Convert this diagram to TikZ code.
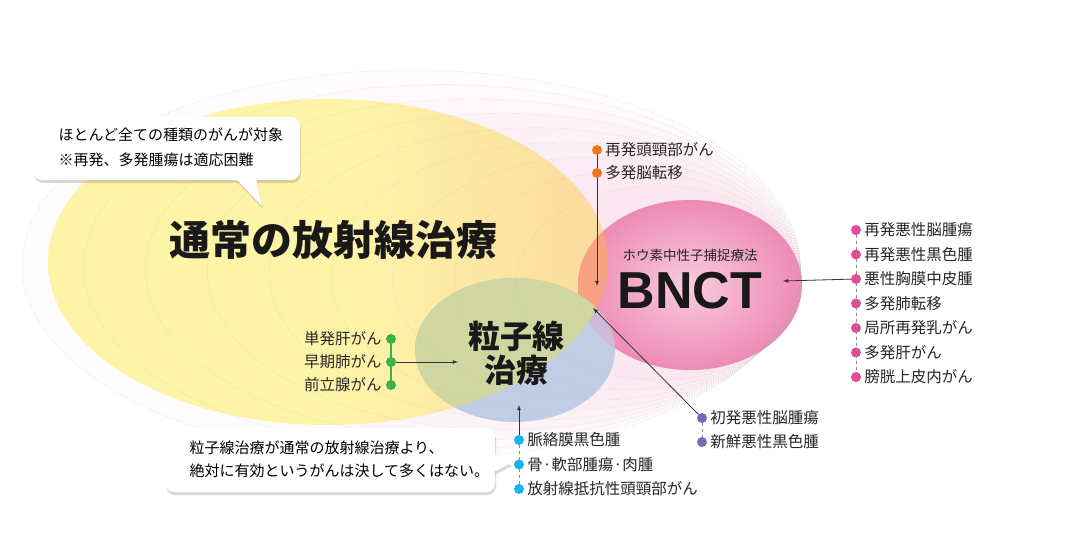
\documentclass[tikz,border=0pt]{standalone}
\usepackage{fontspec}
\usetikzlibrary{positioning,shadows}
\setmainfont{Noto Sans CJK JP}
\newfontfamily\latinfont{Liberation Sans}
\definecolor{yellowA}{RGB}{254,244,168}
\definecolor{yellowB}{RGB}{252,218,158}
\definecolor{bnctA}{RGB}{248,204,222}
\definecolor{bnctB}{RGB}{238,138,180}
\definecolor{rippink}{RGB}{242,170,202}
\definecolor{overorange}{RGB}{247,162,128}
\definecolor{ptblue}{RGB}{192,205,228}
\definecolor{ptgreen}{RGB}{207,214,160}
\definecolor{ptlav}{RGB}{208,184,216}
\definecolor{dotorange}{RGB}{240,118,32}
\definecolor{dotpink}{RGB}{232,72,150}
\definecolor{dotgreen}{RGB}{58,178,72}
\definecolor{dotpurple}{RGB}{118,108,178}
\definecolor{dotcyan}{RGB}{22,180,234}
\pgfdeclarehorizontalshading{yellowfield}{100bp}{color(0bp)=(yellowA); color(52bp)=(yellowA); color(75bp)=(yellowB); color(100bp)=(yellowB)}

\tikzset{
  bullet/.style={circle, fill=#1, inner sep=0pt, minimum size=10pt},
  item/.style={inner sep=0pt, text=black!85, font=\fontsize{15.5}{16}\selectfont},
  conn/.style={-latex, draw=black!80, line width=0.8pt},
  link/.style={draw=black!45, dashed, line width=0.5pt},
  balloon/.style={fill=white, drop shadow={opacity=0.3, shadow xshift=1pt, shadow yshift=-3pt}},
  ripple/.style={dotted, draw=black!30, line width=0.7pt},
}

\begin{document}
\begin{tikzpicture}[x=1pt, y=-1pt]
\useasboundingbox (0,0) rectangle (1080,548);

% ripples from the big field to BNCT
\foreach \i in {0,...,9} {
  \pgfmathsetmacro\t{\i/9}
  \pgfmathsetmacro\cx{411+\t*(690-411)}
  \pgfmathsetmacro\cy{265+\t*(285-265)}
  \pgfmathsetmacro\rx{389+\t*(112-389)}
  \pgfmathsetmacro\ry{195+\t*(85-195)}
  \fill[rippink, opacity=0.035] (\cx,\cy) ellipse [x radius=\rx, y radius=\ry];
}

% the three fields
\shade[shading=yellowfield] (328,262) ellipse [x radius=280, y radius=163];
\shade[inner color=bnctA, outer color=bnctB] (690,285) ellipse [x radius=112, y radius=85];
\begin{scope}
  \clip (328,262) ellipse [x radius=280, y radius=163];
  \fill[overorange] (690,285) ellipse [x radius=112, y radius=85];
\end{scope}
\fill[ptblue] (515,350) ellipse [x radius=100, y radius=72];
\begin{scope}
  \clip (690,285) ellipse [x radius=112, y radius=85];
  \fill[ptlav] (515,350) ellipse [x radius=100, y radius=72];
\end{scope}
\begin{scope}
  \clip (328,262) ellipse [x radius=280, y radius=163];
  \fill[ptgreen] (515,350) ellipse [x radius=100, y radius=72];
\end{scope}

\foreach \i in {0,...,9} {
  \pgfmathsetmacro\t{\i/9}
  \pgfmathsetmacro\cx{411+\t*(690-411)}
  \pgfmathsetmacro\cy{265+\t*(285-265)}
  \pgfmathsetmacro\rx{389+\t*(112-389)}
  \pgfmathsetmacro\ry{195+\t*(85-195)}
  \draw[ripple, opacity=0.45] (\cx,\cy) ellipse [x radius=\rx, y radius=\ry];
}

% titles
\node[font=\bfseries\fontsize{41}{41}\selectfont, text=black!90] (conv) at (333,240) {通常の放射線治療};
\node[align=center, font=\bfseries\fontsize{32}{34}\selectfont, text=black!90] (ptcl) at (516,353) {粒子線\\治療};
\node[font=\fontsize{13.5}{14}\selectfont, text=black!85] (bnctsub) at (690,255) {ホウ素中性子捕捉療法};
\node[font=\latinfont\bfseries\fontsize{52}{52}\selectfont, text=black!90] (bnct) at (690,291) {BNCT};

% balloons
\path[balloon, rounded corners=9pt] (33,117) rectangle (300,180);
\path[balloon] (236,179) -- (256,179) -- (262,206) -- cycle;
\node[anchor=west, align=left, font=\fontsize{15}{25}\selectfont, text=black] (note1) at (55,147.5) {ほとんど全ての種類のがんが対象\\※再発、多発腫瘍は適応困難};

\path[balloon, rounded corners=9pt] (165,428) rectangle (495,492);
\path[balloon] (494,454) -- (494,472) -- (511,463) -- cycle;
\node[anchor=west, align=left, font=\fontsize{15}{23}\selectfont, text=black] (note2) at (186,459.5) {粒子線治療が通常の放射線治療より、\\絶対に有効というがんは決して多くはない。};

% orange group
\node[bullet=dotorange] (o1) at (597,150) {};
\node[bullet=dotorange] (o2) at (597,173) {};
\node[item, right=3pt of o1] (to1) {再発頭頸部がん};
\node[item, right=3pt of o2] (to2) {多発脳転移};
\coordinate (otip) at (597,286);
\draw[black!80, line width=0.8pt] (o1) -- (o2);
\draw[conn] (o2) -- (otip);

% pink group
\foreach \t [count=\i] in {再発悪性脳腫瘍,再発悪性黒色腫,悪性胸膜中皮腫,多発肺転移,局所再発乳がん,多発肝がん,膀胱上皮内がん} {
  \node[bullet=dotpink] (p\i) at (856,{205.5+24.5*\i}) {};
  \node[item, right=3pt of p\i] (tp\i) {\t};
}
\draw[link] (p1) -- (p7);
\coordinate (ptip) at (783,281);
\draw[conn] (p3) -- (ptip);

% green group
\foreach \t [count=\i] in {単発肝がん,早期肺がん,前立腺がん} {
  \node[bullet=dotgreen] (g\i) at (391,{316+23*\i}) {};
  \node[item, left=4pt of g\i] (tg\i) {\t};
}
\draw[dotgreen, line width=2pt] (g1) -- (g3);
\coordinate (gtip) at (458,362);
\draw[conn] (g2) -- (gtip);

% purple group
\node[bullet=dotpurple] (v1) at (702,418) {};
\node[bullet=dotpurple] (v2) at (702,442) {};
\node[item, right=3pt of v1] (tv1) {初発悪性脳腫瘍};
\node[item, right=3pt of v2] (tv2) {新鮮悪性黒色腫};
\draw[link] (v1) -- (v2);
\coordinate (vtip) at (593,308);
\draw[conn] (v1) -- (vtip);

% cyan group
\foreach \t [count=\i] in {脈絡膜黒色腫,骨·軟部腫瘍·肉腫,放射線抵抗性頭頸部がん} {
  \node[bullet=dotcyan] (c\i) at (519,{415.5+24.5*\i}) {};
  \node[item, right=3pt of c\i] (tc\i) {\t};
}
\draw[link] (c1) -- (c3);
\coordinate (ctip) at (519,405);
\draw[conn] (c1) -- (ctip);
\end{tikzpicture}
\end{document}
